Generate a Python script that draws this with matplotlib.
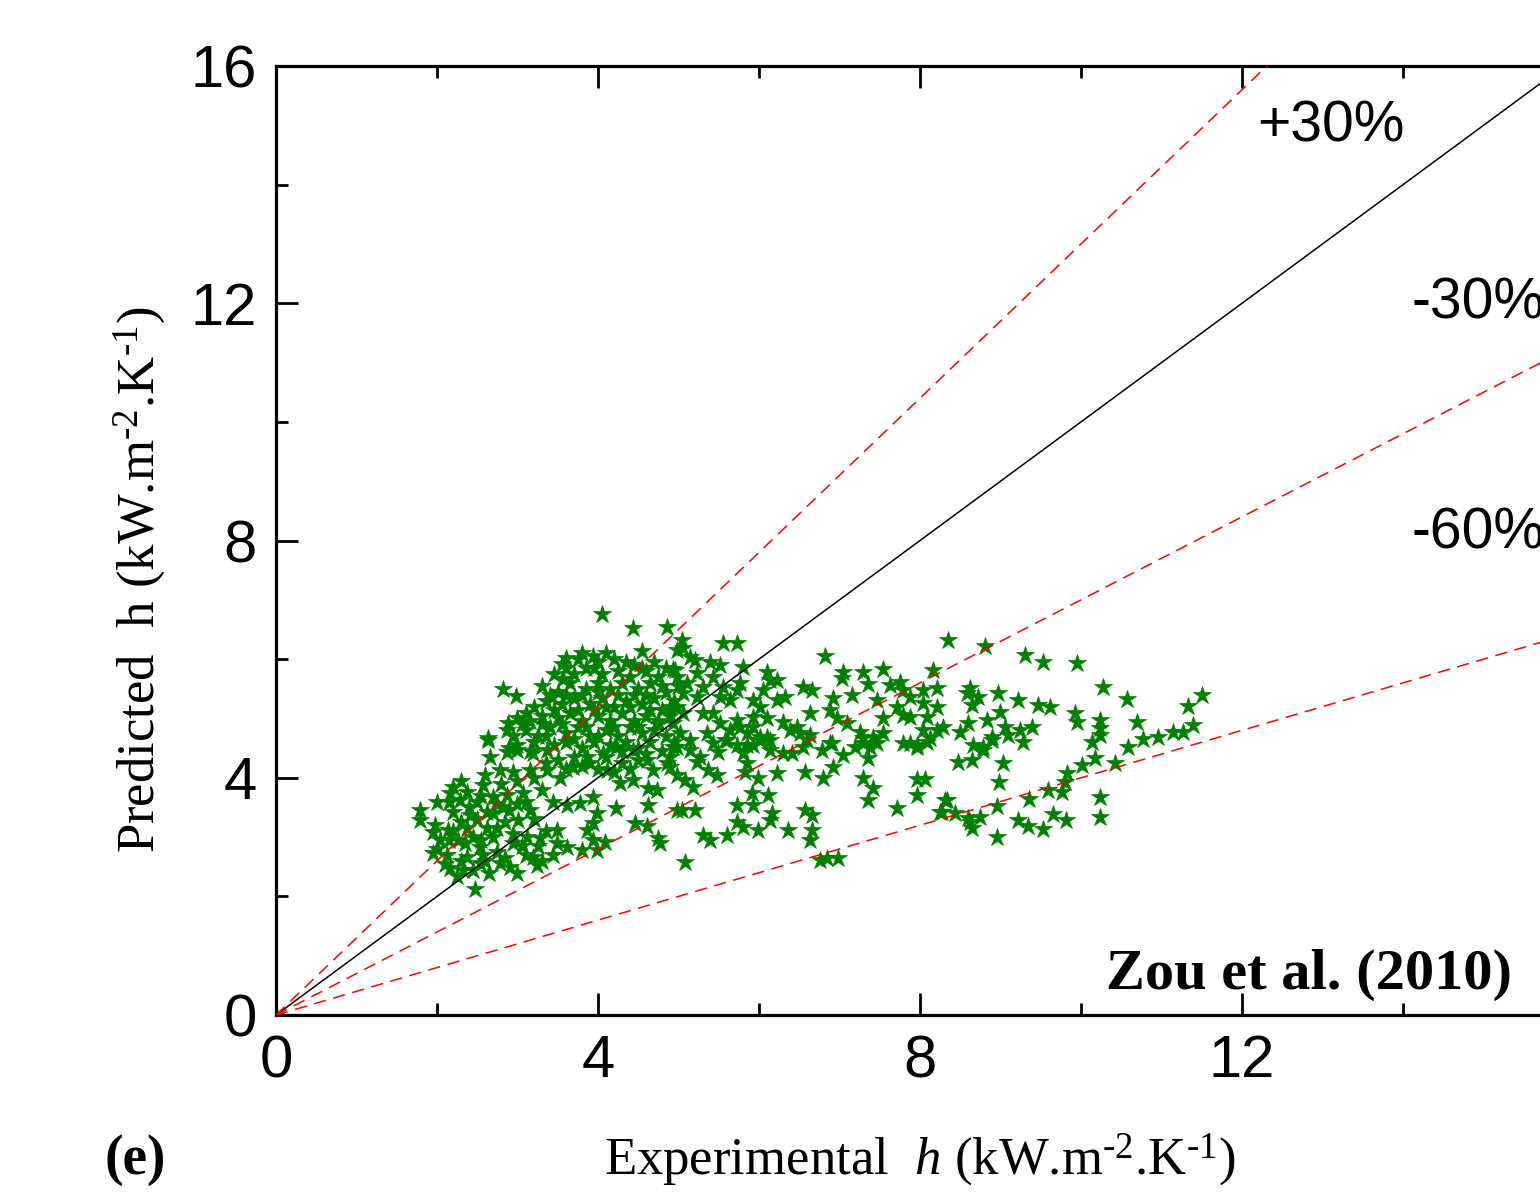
import matplotlib
matplotlib.use('Agg')
import matplotlib.pyplot as plt
from matplotlib.ticker import MultipleLocator, FixedFormatter, FixedLocator

plt.rcParams['mathtext.fontset'] = 'custom'
plt.rcParams['mathtext.rm'] = 'Liberation Serif'
plt.rcParams['mathtext.it'] = 'Liberation Serif:italic'

# experimental h vs predicted h (kW/m2K)
exp_h = [
    4.05, 4.44, 4.86, 4.55, 3.60, 3.55, 3.57, 3.94, 2.82, 2.98, 2.63, 2.88, 2.87, 3.43, 4.93, 4.98,
    2.63, 2.66, 2.87, 2.99, 3.19, 3.37, 2.78, 2.94, 3.16, 3.37, 3.53, 3.69, 3.86, 4.06, 4.23, 4.44,
    4.61, 4.68, 4.86, 4.93, 4.11, 4.27, 4.44, 4.62, 4.73, 4.23, 4.62, 4.46, 4.61, 4.75, 4.77, 1.79,
    1.79, 1.98, 2.16, 2.37, 2.57, 2.29, 2.50, 2.70, 2.87, 3.07, 2.20, 2.41, 2.62, 2.82, 3.01, 3.16,
    3.44, 3.61, 3.78, 3.94, 3.99, 1.95, 2.14, 2.37, 2.62, 2.04, 2.26, 2.53, 1.95, 2.12, 2.37, 2.57,
    2.74, 2.94, 3.12, 3.28, 3.49, 3.49, 3.44, 3.61, 3.80, 3.94, 4.09, 3.99, 3.86, 3.94, 2.16, 2.32,
    2.53, 2.78, 2.91, 2.99, 3.24, 3.19, 2.47, 4.98,
    5.04, 5.06, 5.55, 5.73, 6.82, 8.35, 7.04, 7.03, 7.29, 7.54, 7.35, 7.63, 7.75, 7.79, 8.16, 8.21,
    8.04, 7.88, 6.10, 6.14, 6.22, 6.55, 6.66, 6.92, 7.16, 7.47, 7.71, 8.21, 8.04, 6.63, 6.88, 6.97,
    7.09, 7.54, 7.79, 7.88, 8.09, 8.21, 8.29, 8.04, 8.12, 7.54, 7.42, 7.25, 7.29, 7.47, 7.79, 7.96,
    6.47, 6.51, 6.63, 6.30, 6.39, 6.88, 6.10, 5.93, 5.93, 5.85, 6.01, 6.10, 5.93, 5.73, 6.32, 6.22,
    6.05, 5.93, 6.01, 5.73, 5.76, 5.64, 5.52, 5.43, 5.30, 5.80, 5.76, 5.55, 5.43, 5.39, 5.52, 5.14,
    5.20, 4.96, 4.98, 5.23, 5.11, 5.30, 5.52, 5.64, 5.73, 5.23, 5.06, 4.98, 5.06, 4.93, 5.02, 5.14,
    5.35, 5.43, 5.60, 6.55, 7.19,
    4.98, 5.14, 5.27, 5.23, 5.49, 5.58, 5.85, 5.80, 5.85, 5.83, 6.14, 6.30, 6.41, 6.01, 6.14, 6.78,
    6.91, 7.04, 6.92, 6.60, 7.29, 7.38, 7.35, 7.88, 7.96, 8.09, 4.89, 4.98, 5.08, 5.18, 5.37, 5.48,
    5.99, 6.22, 6.57, 6.80, 7.29, 7.42, 7.35, 7.96, 8.06, 7.96, 7.71, 8.31, 8.25, 5.91, 6.11, 5.93,
    5.73, 5.04, 5.20, 6.16, 6.14, 5.73, 5.80, 5.99, 6.36, 6.57, 6.66, 6.66, 6.63, 5.30, 5.39, 5.60,
    5.08, 6.76, 6.84, 6.98,
    8.81, 9.30, 9.53, 9.95, 10.27, 10.57, 11.50, 11.33, 11.39, 11.27, 11.14, 10.96, 10.77, 10.70,
    10.58, 10.24, 10.24, 10.24, 10.14, 9.93, 9.95, 9.61, 9.47, 9.22, 8.97, 8.99, 8.83, 8.62, 8.58,
    8.72, 8.65, 8.60, 8.50, 9.06, 9.09, 9.24, 9.39, 8.89, 8.66, 8.78, 9.28,
    8.78, 8.89, 8.47, 8.65, 9.03, 8.98, 10.17, 10.01, 10.42, 9.83, 9.80, 9.76, 9.59, 9.35, 8.96,
    8.34, 8.27, 8.43, 8.60, 8.75, 8.65, 8.62, 8.96, 9.22, 9.34, 9.53, 9.65, 9.81, 10.24, 10.24,
    3.75, 4.00, 4.20, 4.45, 4.70, 4.85,
    3.70, 3.85, 4.05, 4.25, 4.40, 4.60, 4.75, 5.00,
    3.30, 3.50, 3.65, 3.85, 4.00, 4.15, 4.30, 4.50, 4.65, 4.85,
    3.20, 3.35, 3.55, 3.70, 3.90, 4.05, 4.20, 4.35, 4.55, 4.70, 4.80, 4.95,
    3.00, 3.15, 3.30, 3.50, 3.65, 3.80, 4.00, 4.15, 4.30, 4.45, 4.60, 4.75, 4.90,
    2.95, 3.10, 3.25, 3.40, 3.60, 3.75, 3.90, 4.10, 4.25, 4.40, 4.55, 4.70, 4.85,
    3.00, 3.20, 3.45, 3.60, 3.80, 3.95, 4.15, 4.35, 4.50, 4.65, 4.80,
    3.50, 3.70, 3.90, 4.10, 4.30, 4.50, 4.90,
    2.30, 2.60, 2.80, 3.00, 3.20, 3.30, 3.00, 3.20, 3.35, 2.45, 2.70, 2.85, 2.30, 2.10, 2.25, 2.45,
    2.65, 3.10, 3.30, 2.00, 2.20, 0.0,
    3.45, 3.60, 3.95, 4.35, 4.55, 4.10, 3.80,
    3.40, 3.60, 3.80, 4.00, 4.25, 4.45, 4.60, 4.80,
    3.10, 3.45, 3.75, 3.95, 4.10, 4.40, 4.65, 4.90,
    3.05, 3.30, 3.55, 3.85, 4.20, 4.50, 4.75,
    2.90, 3.15, 3.35, 3.70, 4.00, 4.30, 4.60, 4.95,
    3.35, 3.60, 3.80, 4.00, 4.20, 4.40,
    2.15, 2.40, 2.55, 2.75, 2.90, 3.10, 2.20, 2.35, 2.55, 2.75, 2.95, 2.00, 2.15, 2.30, 2.60, 2.85,
    3.05, 3.25, 2.50, 2.70,
]
pred_h = [
    6.76, 6.53, 6.54, 6.14, 6.02, 5.92, 5.67, 6.05, 5.50, 5.38, 4.67, 4.92, 4.81, 5.36, 5.83, 6.16,
    4.64, 4.35, 4.44, 4.47, 4.42, 4.47, 4.13, 4.10, 4.13, 4.13, 4.00, 4.18, 4.35, 4.42, 4.52, 4.47,
    4.30, 4.13, 4.25, 4.52, 4.13, 3.91, 3.96, 3.83, 3.79, 3.49, 3.54, 3.24, 3.19, 2.98, 2.90, 3.46,
    3.29, 3.20, 3.74, 3.76, 3.88, 3.63, 3.59, 3.68, 3.71, 3.74, 3.42, 3.37, 3.42, 3.51, 3.29, 3.46,
    3.59, 3.54, 3.58, 3.68, 3.41, 3.09, 3.12, 3.15, 3.15, 2.95, 2.95, 2.83, 2.73, 2.70, 2.67, 2.70,
    2.75, 2.90, 3.00, 2.98, 3.12, 2.90, 2.70, 2.83, 2.78, 2.95, 2.92, 2.78, 3.12, 3.24, 2.48, 2.45,
    2.56, 2.56, 2.50, 2.39, 2.53, 2.67, 2.12, 3.46,
    6.32, 6.19, 6.27, 6.27, 6.05, 6.32, 5.78, 5.68, 5.78, 5.83, 5.58, 5.56, 5.62, 5.48, 5.82, 5.51,
    5.48, 5.36, 5.78, 5.65, 5.65, 5.53, 5.48, 5.35, 5.40, 5.31, 5.19, 5.19, 5.26, 5.09, 5.14, 5.01,
    4.92, 5.01, 5.06, 5.03, 5.03, 4.81, 4.86, 4.81, 4.67, 4.76, 4.69, 4.77, 4.67, 4.59, 4.59, 4.55,
    4.86, 4.76, 4.72, 4.94, 4.81, 4.59, 5.01, 5.03, 4.86, 4.76, 4.69, 4.69, 4.55, 4.55, 5.36, 5.31,
    5.48, 5.31, 5.19, 4.97, 4.86, 4.81, 4.92, 5.09, 5.09, 5.87, 5.60, 5.53, 5.70, 5.95, 5.90, 6.04,
    5.99, 5.82, 5.70, 5.77, 5.60, 5.53, 5.36, 5.31, 5.48, 5.36, 5.43, 5.19, 5.09, 4.92, 4.76, 4.64,
    4.76, 4.59, 4.64, 4.52, 4.52,
    4.52, 4.47, 4.35, 4.27, 4.44, 4.64, 4.55, 4.42, 4.25, 4.10, 4.47, 4.42, 4.42, 4.64, 4.64, 4.47,
    4.59, 4.38, 4.18, 4.64, 4.59, 4.52, 4.33, 4.59, 4.52, 4.60, 4.18, 4.05, 3.96, 3.84, 4.13, 4.05,
    4.00, 4.08, 4.10, 4.00, 4.00, 3.83, 3.63, 3.98, 3.98, 3.71, 3.49, 3.63, 3.42, 3.74, 3.71, 3.54,
    3.54, 3.46, 3.46, 3.41, 3.29, 3.25, 3.17, 3.12, 3.12, 3.46, 3.37, 3.12, 2.95, 3.04, 2.95, 3.04,
    2.58, 2.61, 2.65, 2.65,
    6.22, 6.07, 5.95, 5.94, 5.53, 5.33, 5.40, 5.21, 4.89, 4.77, 4.77, 4.69, 4.65, 4.94,
    4.52, 4.97, 4.84, 4.72, 4.60, 5.09, 4.94, 5.19, 5.23, 5.31, 5.43, 5.11, 4.97, 5.51, 5.43,
    5.36, 5.23, 4.92, 4.77, 4.86, 4.72, 4.81, 4.86, 4.69, 4.55, 4.52, 4.60,
    4.47, 4.64, 4.27, 4.30, 4.25, 3.93, 4.33, 4.22, 4.25, 4.08, 3.93, 3.76, 3.79, 3.64, 3.52,
    3.63, 3.42, 3.41, 3.32, 3.34, 3.15, 3.25, 3.00, 3.29, 3.19, 3.14, 3.39, 3.29, 3.68, 3.34,
    6.00, 5.95, 6.00, 5.90, 5.95, 5.85,
    5.75, 5.85, 5.75, 5.80, 5.70, 5.80, 5.70, 5.55,
    5.55, 5.45, 5.60, 5.50, 5.60, 5.50, 5.60, 5.50, 5.60, 5.45,
    5.20, 5.30, 5.25, 5.35, 5.25, 5.35, 5.20, 5.30, 5.25, 5.35, 5.15, 5.30,
    5.00, 4.95, 5.05, 5.00, 5.10, 4.95, 5.05, 4.95, 5.10, 4.95, 5.05, 4.95, 5.05,
    4.70, 4.80, 4.70, 4.85, 4.75, 4.85, 4.70, 4.80, 4.70, 4.85, 4.75, 4.80, 4.70,
    4.55, 4.60, 4.55, 4.60, 4.50, 4.60, 4.55, 4.60, 4.50, 4.60, 4.45,
    4.30, 4.35, 4.25, 4.35, 4.25, 4.30, 4.35,
    3.95, 4.05, 3.90, 3.95, 4.00, 3.80, 3.55, 3.30, 3.10, 3.00, 3.00, 3.25, 3.25, 2.55, 2.35, 2.45,
    2.40, 2.70, 2.60, 3.60, 3.85, 0.0,
    5.75, 5.85, 5.85, 5.95, 5.85, 6.10, 6.10,
    5.40, 5.40, 5.40, 5.45, 5.40, 5.40, 5.40, 5.55,
    5.10, 5.15, 5.15, 5.15, 5.20, 5.20, 5.15, 5.20,
    4.90, 4.90, 4.90, 4.85, 4.85, 4.85, 4.90,
    4.50, 4.45, 4.70, 4.65, 4.70, 4.45, 4.40, 4.60,
    4.25, 4.15, 4.20, 4.15, 4.10, 4.15,
    3.60, 3.50, 3.70, 3.55, 3.45, 3.60, 3.10, 2.90, 2.95, 3.15, 3.05, 2.80, 2.95, 2.60, 2.60, 2.65,
    2.85, 2.85, 3.30, 3.40,
]

ref_x = [0, 16]
band_factors = [1.3, 0.7, 0.4]
band_labels = ['+30%', '-30%', '-60%']
label_pos = [(12.19, 14.72), (14.11, 11.74), (14.11, 7.87)]
tick_vals = [0, 4, 8, 12, 16]
xtick_labels = ['0', '4', '8', '12', '']

fig = plt.figure(figsize=(15.4, 11.96), dpi=100)
ax = fig.add_axes([0.1792, 0.1513, 0.8364, 0.7935])

ax.plot(exp_h, pred_h, linestyle='none', marker='*', ms=13.5, color='#008000',
        mec='#008000', mew=0.5, zorder=2)

ax.plot(ref_x, ref_x, color='black', lw=1.1, zorder=3)
for f in band_factors:
    ax.plot(ref_x, [v * f for v in ref_x], color='#FF0000', lw=1.1,
            linestyle=(0, (8, 5)), zorder=3)

for txt, (tx, ty) in zip(band_labels, label_pos):
    ax.text(tx, ty, txt, fontsize=41, family='Liberation Sans', ha='left', va='baseline')

ax.text(15.35, 0.45, 'Zou et al. (2010)', fontsize=42, family='Liberation Serif',
        fontweight='bold', ha='right', va='baseline')

ax.set_xlim(0, 16)
ax.set_ylim(0, 16)
ax.xaxis.set_major_locator(FixedLocator(tick_vals))
ax.xaxis.set_major_formatter(FixedFormatter(xtick_labels))
ax.yaxis.set_major_locator(MultipleLocator(4))
ax.xaxis.set_minor_locator(MultipleLocator(2))
ax.yaxis.set_minor_locator(MultipleLocator(2))
ax.tick_params(which='both', direction='in', top=True, right=True, width=2)
ax.tick_params(which='major', length=16, labelsize=43, pad=14)
ax.tick_params(which='minor', length=8.5)
for lab in ax.get_xticklabels() + ax.get_yticklabels():
    lab.set_family('Liberation Sans')
for sp in ax.spines.values():
    sp.set_linewidth(2.3)

fig.text(920 / 1540, 1 - 1160 / 1196, r'Experimental  $\mathit{h}$ (kW.m$^{\text{-2}}$.K$^{\text{-1}}$)',
         fontsize=38, family='Liberation Serif', ha='center', va='center')
fig.text(140 / 1540, 1 - 580 / 1196, r'Predicted  h (kW.m$^{\text{-2}}$.K$^{\text{-1}}$)',
         fontsize=38, family='Liberation Serif', ha='center', va='center', rotation=90)
fig.text(135 / 1540, 1 - 1160 / 1196, '(e)', fontsize=40, family='Liberation Serif',
         fontweight='bold', ha='center', va='center')

fig.savefig('out.png', dpi=100)
